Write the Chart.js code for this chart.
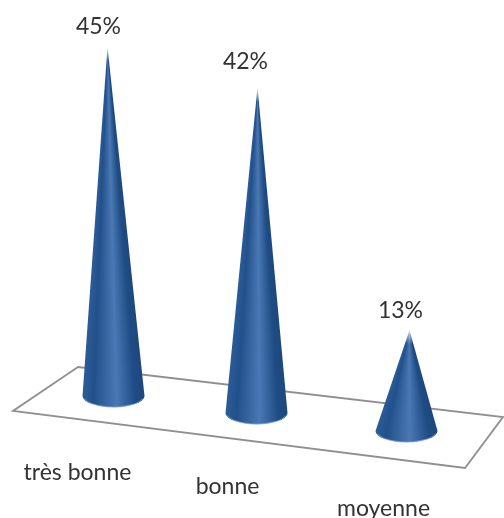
<!DOCTYPE html>
<html>
<head>
<meta charset="utf-8">
<style>
html, body { margin: 0; padding: 0; background: #fff; }
#wrap { width: 504px; height: 518px; }
canvas { filter: blur(0.5px); }
</style>
<script src="https://cdn.jsdelivr.net/npm/chart.js@4"></script>
</head>
<body>
<div id="wrap"><canvas id="coneChart"></canvas></div>
<script>
const categories = ['très bonne', 'bonne', 'moyenne'];
const shares = [45, 42, 13];

// fake 3d depth, each cone sits a bit lower and to the side
const coneShift = [[1, 0], [-3, 17], [0, 35]];
const tipLean = [-6, 1, 3];
const valueLabelShift = [[-15, -20], [-11, -26], [-6, -20]];
const catLabelShift = [[-36, 77], [-29, 74], [-23, 78]];
const coneHalfWidth = 31;
const coneBaseRy = 11;

const shadeStops = [
    [0, '#2c5c98'],
    [0.18, '#22508a'],
    [0.55, '#4a78b4'],
    [0.85, '#1f4c84'],
    [1, '#1d487e']
];

function rowGradient(ctx, x0, x1) {
    const g = ctx.createLinearGradient(x0, 0, x1, 0);
    shadeStops.forEach(s => g.addColorStop(s[0], s[1]));
    return g;
}

function drawCone(ctx, cx, cy, tipX, tipY) {
    const h = cy - tipY;
    ctx.save();
    ctx.beginPath();
    ctx.moveTo(tipX, tipY);
    ctx.lineTo(cx - coneHalfWidth, cy);
    ctx.ellipse(cx, cy, coneHalfWidth, coneBaseRy, 0, Math.PI, 0, true);
    ctx.closePath();
    ctx.clip();
    // one row at a time so the shading narrows with the cone
    for (let y = Math.floor(tipY); y < cy + coneBaseRy + 1; y++) {
        const f = Math.min(1, (y + 0.5 - tipY) / h);
        const hw = Math.max(coneHalfWidth * f, 0.5);
        const mid = tipX + (cx - tipX) * f;
        ctx.globalAlpha = Math.min(1, 0.25 + (y - tipY) / 18);
        ctx.fillStyle = rowGradient(ctx, mid - hw, mid + hw);
        ctx.fillRect(mid - hw - 1, y, 2 * hw + 2, 1);
    }
    ctx.restore();
    // light rim along the bottom
    ctx.beginPath();
    ctx.ellipse(cx, cy, coneHalfWidth - 1, coneBaseRy, 0, 0.25, Math.PI - 0.25);
    ctx.strokeStyle = 'rgba(120,165,215,0.7)';
    ctx.lineWidth = 1.2;
    ctx.stroke();
}

const conePlugin = {
    id: 'cones',
    beforeDatasetsDraw(chart) {
        const ctx = chart.ctx;
        const a = chart.chartArea;
        // floor, placed from the plot area
        ctx.save();
        ctx.beginPath();
        ctx.moveTo(a.left + 39, a.bottom - 29);
        ctx.lineTo(a.left - 26, a.bottom + 15);
        ctx.lineTo(a.left + 426, a.bottom + 72);
        ctx.lineTo(a.left + 464, a.bottom + 21);
        ctx.closePath();
        ctx.strokeStyle = '#8f8f8f';
        ctx.lineWidth = 1.8;
        ctx.stroke();
        ctx.restore();
    },
    afterDatasetsDraw(chart) {
        const ctx = chart.ctx;
        const bars = chart.getDatasetMeta(0).data;
        ctx.save();
        bars.forEach((bar, i) => {
            const cx = bar.x + coneShift[i][0];
            const dy = coneShift[i][1];
            const tipY = bar.y + dy;
            drawCone(ctx, cx, bar.base + dy, cx + tipLean[i], tipY);

            ctx.fillStyle = '#333333';
            ctx.textAlign = 'center';
            ctx.textBaseline = 'middle';
            ctx.font = '23px Lato';
            ctx.fillText(shares[i] + '%', cx + valueLabelShift[i][0], tipY + valueLabelShift[i][1]);
            ctx.fillText(categories[i], cx + catLabelShift[i][0], bar.base + dy + catLabelShift[i][1]);
        });
        ctx.restore();
    }
};

new Chart(document.getElementById('coneChart'), {
    type: 'bar',
    data: {
        labels: categories,
        datasets: [{
            data: shares,
            backgroundColor: 'transparent',
            borderWidth: 0
        }]
    },
    options: {
        responsive: true,
        maintainAspectRatio: false,
        animation: false,
        layout: {
            padding: { left: 39, right: 24, top: 8, bottom: 122 }
        },
        plugins: {
            legend: { display: false },
            tooltip: { enabled: false }
        },
        scales: {
            x: { display: false },
            y: { display: false, min: 0, max: 50 }
        }
    },
    plugins: [conePlugin]
});
</script>
</body>
</html>
